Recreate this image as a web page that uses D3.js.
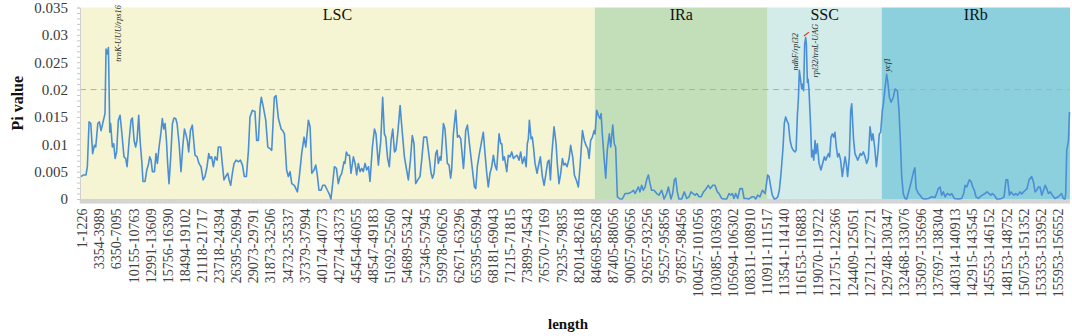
<!DOCTYPE html>
<html><head><meta charset="utf-8">
<script src="https://cdn.jsdelivr.net/npm/d3@7"></script>
<style>body{margin:0;background:#fff}svg{display:block}text{font-family:"Liberation Serif","Times New Roman",serif}</style>
</head><body><svg id="c" width="1072" height="336"></svg>
<script>
// window labels on the x axis (one label every few sliding windows)
const windowLabels = ["1-1226","3354-3989","6350-7095","10155-10763","12991-13609","15756-16390","18494-19102","21118-21717","23718-24394","26395-26994","29073-29791","31873-32506","34732-35337","37379-37994","40174-40773","42774-43373","45454-46055","48547-49183","51692-52560","54689-55342","57346-57945","59978-60626","62671-63296","65395-65994","68181-69043","71215-71815","73899-74543","76570-77169","79235-79835","82014-82618","84669-85268","87405-88056","90057-90656","92657-93256","95257-95856","97857-98456","100457-101056","103085-103693","105694-106302","108311-108910","110911-111517","113541-114140","116153-116883","119070-119722","121751-122366","124409-125051","127121-127721","129748-130347","132468-133076","135097-135696","137697-138304","140314-140913","142915-143545","145553-146152","148153-148752","150753-151352","153353-153952","155953-156552"];

// window position (in label-index units) and Pi value
const windowPos = [-0.06,0.08,0.23,0.31,0.41,0.51,0.62,0.72,0.80,0.92,1.01,1.11,1.25,1.34,1.40,1.48,1.54,1.62,1.67,1.77,1.85,1.93,2.02,2.12,2.22,2.32,2.45,2.55,2.63,2.75,2.86,2.94,3.04,3.13,3.21,3.31,3.39,3.49,3.56,3.68,3.78,3.87,3.95,4.03,4.11,4.23,4.32,4.40,4.50,4.60,4.69,4.77,4.85,4.93,5.00,5.08,5.18,5.28,5.37,5.47,5.55,5.67,5.78,5.88,5.98,6.06,6.15,6.23,6.33,6.44,6.52,6.60,6.72,6.83,6.95,7.07,7.18,7.30,7.40,7.48,7.57,7.67,7.77,7.89,7.96,8.10,8.20,8.29,8.39,8.51,8.59,8.68,8.78,8.88,9.00,9.13,9.25,9.37,9.48,9.60,9.72,9.81,9.95,10.10,
10.20,10.30,10.40,10.47,10.59,10.73,10.85,10.98,11.08,11.23,11.33,11.47,11.63,11.72,11.82,11.95,12.05,12.15,12.25,12.40,12.58,12.69,12.83,12.97,13.07,13.22,13.32,13.42,13.55,13.65,13.73,13.84,13.96,14.06,14.19,14.33,14.43,14.54,14.62,14.74,14.86,14.97,15.07,15.17,15.30,15.36,15.44,15.52,15.62,15.71,15.85,15.95,16.04,16.14,16.24,16.34,16.43,16.53,16.63,16.73,16.82,16.96,17.08,17.17,17.31,17.45,17.56,17.66,17.74,17.85,17.95,18.05,18.15,18.25,18.33,18.44,18.58,18.67,18.83,18.96,19.06,19.18,19.29,19.39,19.49,19.61,19.74,19.84,19.96,20.03,20.13,
20.23,20.39,20.47,20.56,20.66,20.74,20.81,20.91,20.97,21.11,21.20,21.34,21.44,21.53,21.59,21.69,21.83,21.93,22.02,22.12,22.28,22.33,22.41,22.51,22.63,22.76,22.92,23.00,23.09,23.21,23.35,23.44,23.54,23.64,23.73,23.83,23.93,24.03,24.12,24.22,24.36,24.46,24.52,24.59,24.67,24.81,24.90,25.00,25.10,25.20,25.29,25.41,25.53,25.62,25.72,25.84,25.94,26.01,26.07,26.13,26.23,26.30,26.38,26.46,26.58,26.65,26.77,26.89,26.99,27.10,27.20,27.28,27.36,27.43,27.57,27.69,27.76,27.86,27.96,28.06,28.15,28.23,28.33,28.45,28.54,28.66,28.76,28.90,28.99,29.09,29.23,29.34,29.44,29.54,29.62,29.71,29.81,29.91,29.97,
30.06,30.16,30.26,30.32,30.39,30.49,30.59,30.68,30.80,30.88,31.00,31.09,31.17,31.27,31.43,31.56,31.72,31.91,32.11,32.21,32.30,32.50,32.59,32.69,32.79,32.89,32.98,33.08,33.18,33.27,33.41,33.57,33.70,33.86,34.00,34.15,34.25,34.40,34.50,34.60,34.68,34.77,34.87,35.03,35.18,35.32,35.46,35.57,35.69,35.81,35.91,36.04,36.16,36.30,36.39,36.58,36.70,36.84,36.97,37.11,37.21,37.36,37.52,37.66,37.79,37.89,37.99,38.08,38.18,38.30,38.43,38.57,38.67,38.82,38.96,39.12,39.24,39.35,39.47,39.60,39.74,39.90,
40.05,40.13,40.23,40.32,40.44,40.54,40.64,40.73,40.83,40.95,41.02,41.10,41.20,41.26,41.36,41.45,41.55,41.65,41.71,41.79,41.84,41.90,41.98,42.04,42.10,42.15,42.21,42.27,42.31,42.37,42.41,42.46,42.56,42.62,42.68,42.74,42.82,42.87,42.95,43.05,43.16,43.26,43.36,43.44,43.52,43.60,43.67,43.75,43.83,43.91,43.98,44.06,44.14,44.22,44.31,44.41,44.49,44.57,44.64,44.72,44.82,44.90,44.96,45.07,45.15,45.23,45.31,45.39,45.46,45.54,45.64,45.74,45.83,45.93,46.03,46.13,46.20,46.30,46.40,46.50,46.57,46.65,46.75,46.81,46.91,47.00,47.06,47.16,47.26,47.39,47.49,47.63,47.72,47.80,47.88,47.97,48.07,48.17,48.31,48.46,48.57,48.65,
48.72,48.85,48.95,49.09,49.24,49.44,49.63,49.83,49.92,50.02,50.12,50.21,50.31,50.41,50.55,50.70,50.80,50.95,51.19,51.38,51.50,51.58,51.68,51.83,51.93,52.03,52.12,52.22,52.36,52.45,52.59,52.75,52.86,52.98,53.08,53.17,53.29,53.43,53.56,53.72,53.86,53.97,54.07,54.17,54.27,54.36,54.44,54.54,54.65,54.79,54.89,55.00,55.10,55.20,55.32,55.47,55.57,55.67,55.77,55.86,55.96,56.06,56.16,56.26,56.35,56.45,56.56,56.68,56.83,57.03,57.22,57.32,57.42,57.46,57.52,57.62,57.68];

const piValues = [0.0041,0.0044,0.0044,0.0059,0.0141,0.0138,0.0083,0.0098,0.0095,0.0138,0.0141,0.0125,0.0144,0.0156,0.0274,0.0265,0.0277,0.0122,0.0138,0.0095,0.0101,0.0074,0.0086,0.0144,0.0153,0.0122,0.0077,0.0074,0.0059,0.0107,0.0144,0.0148,0.0107,0.0095,0.0107,0.0153,0.0107,0.0068,0.0032,0.0032,0.0053,0.0062,0.0077,0.0071,0.0050,0.0050,0.0083,0.0065,0.0095,0.0119,0.0147,0.0128,0.0138,0.0107,0.0065,0.0028,0.0077,0.0138,0.0148,0.0147,0.0138,0.0101,0.0050,0.0095,0.0128,0.0119,0.0107,0.0086,0.0125,0.0135,0.0107,0.0080,0.0077,0.0065,0.0059,0.0035,0.0041,0.0059,0.0083,0.0074,0.0077,0.0059,0.0077,0.0071,0.0095,0.0095,0.0062,0.0035,0.0041,0.0047,0.0035,0.0025,0.0047,0.0065,0.0071,0.0068,0.0071,0.0062,0.0041,0.0041,0.0089,0.0150,0.0162,0.0160,
0.0107,0.0107,0.0168,0.0186,0.0168,0.0144,0.0095,0.0092,0.0089,0.0186,0.0189,0.0147,0.0128,0.0125,0.0119,0.0053,0.0041,0.0050,0.0028,0.0025,0.0013,0.0041,0.0083,0.0113,0.0095,0.0144,0.0132,0.0047,0.0053,0.0062,0.0047,0.0016,0.0016,0.0025,0.0025,0.0016,0.0010,0.0000,0.0022,0.0059,0.0056,0.0028,0.0041,0.0047,0.0068,0.0065,0.0086,0.0080,0.0080,0.0047,0.0077,0.0065,0.0044,0.0065,0.0050,0.0056,0.0050,0.0065,0.0053,0.0059,0.0032,0.0095,0.0128,0.0119,0.0062,0.0107,0.0186,0.0119,0.0113,0.0074,0.0059,0.0107,0.0128,0.0086,0.0089,0.0119,0.0171,0.0135,0.0077,0.0053,0.0035,0.0071,0.0116,0.0101,0.0028,0.0035,0.0041,0.0071,0.0113,0.0113,0.0113,
0.0089,0.0047,0.0038,0.0047,0.0083,0.0089,0.0065,0.0077,0.0071,0.0138,0.0128,0.0065,0.0062,0.0038,0.0053,0.0119,0.0162,0.0113,0.0116,0.0110,0.0056,0.0077,0.0125,0.0135,0.0101,0.0065,0.0022,0.0019,0.0059,0.0083,0.0107,0.0122,0.0083,0.0047,0.0022,0.0047,0.0059,0.0080,0.0062,0.0053,0.0119,0.0101,0.0101,0.0071,0.0077,0.0050,0.0080,0.0077,0.0086,0.0074,0.0077,0.0080,0.0071,0.0086,0.0065,0.0077,0.0059,0.0101,0.0110,0.0144,0.0110,0.0113,0.0092,0.0065,0.0047,0.0059,0.0077,0.0041,0.0025,0.0047,0.0068,0.0071,0.0035,0.0077,0.0132,0.0101,0.0065,0.0028,0.0047,0.0074,0.0062,0.0065,0.0059,0.0074,0.0098,0.0077,0.0044,0.0032,0.0022,0.0059,0.0125,0.0107,0.0098,0.0092,0.0074,0.0107,0.0113,0.0125,0.0119,
0.0162,0.0153,0.0147,0.0156,0.0119,0.0077,0.0038,0.0089,0.0119,0.0095,0.0135,0.0101,0.0095,0.0004,0.0000,0.0000,0.0010,0.0010,0.0013,0.0016,0.0010,0.0022,0.0013,0.0025,0.0016,0.0022,0.0035,0.0044,0.0028,0.0016,0.0016,0.0010,0.0007,0.0016,0.0000,0.0010,0.0022,0.0000,0.0010,0.0035,0.0038,0.0013,0.0000,0.0000,0.0013,0.0001,0.0004,0.0013,0.0010,0.0007,0.0010,0.0004,0.0004,0.0013,0.0016,0.0025,0.0019,0.0025,0.0025,0.0013,0.0010,0.0001,0.0000,0.0000,0.0010,0.0007,0.0010,0.0001,0.0010,0.0001,0.0019,0.0019,0.0001,0.0001,0.0000,0.0004,0.0004,0.0000,0.0007,0.0004,0.0016,0.0010,
0.0044,0.0041,0.0022,0.0007,0.0000,0.0001,0.0004,0.0016,0.0047,0.0095,0.0138,0.0150,0.0141,0.0138,0.0107,0.0095,0.0089,0.0086,0.0089,0.0156,0.0180,0.0235,0.0216,0.0201,0.0210,0.0198,0.0283,0.0295,0.0283,0.0213,0.0219,0.0201,0.0132,0.0077,0.0089,0.0071,0.0107,0.0083,0.0101,0.0065,0.0053,0.0065,0.0077,0.0071,0.0077,0.0083,0.0077,0.0113,0.0119,0.0113,0.0122,0.0095,0.0077,0.0083,0.0071,0.0041,0.0059,0.0077,0.0065,0.0041,0.0077,0.0162,0.0174,0.0107,0.0083,0.0077,0.0071,0.0077,0.0083,0.0080,0.0086,0.0077,0.0065,0.0074,0.0132,0.0107,0.0119,0.0095,0.0059,0.0089,0.0119,0.0122,0.0162,0.0174,0.0204,0.0228,0.0216,0.0186,0.0177,0.0186,0.0201,0.0198,0.0162,0.0107,0.0041,0.0010,0.0001,0.0000,0.0016,0.0035,0.0050,0.0057,
0.0019,0.0010,0.0007,0.0001,0.0000,0.0001,0.0004,0.0003,0.0010,0.0019,0.0022,0.0007,0.0013,0.0004,0.0010,0.0007,0.0010,0.0001,0.0000,0.0001,0.0010,0.0025,0.0022,0.0035,0.0032,0.0022,0.0016,0.0004,0.0001,0.0004,0.0007,0.0010,0.0013,0.0010,0.0007,0.0010,0.0007,0.0000,0.0000,0.0001,0.0004,0.0035,0.0035,0.0007,0.0013,0.0009,0.0007,0.0010,0.0007,0.0013,0.0009,0.0013,0.0016,0.0019,0.0035,0.0041,0.0032,0.0013,0.0016,0.0022,0.0022,0.0007,0.0016,0.0025,0.0019,0.0010,0.0013,0.0007,0.0001,0.0004,0.0010,0.0001,0.0000,0.0010,0.0089,0.0107,0.0159];

// genome regions (label-index units)
const regionNames = ["LSC","IRa","SSC","IRb"];
const regionStart = [-0.12, 29.95, 40.05, 46.71];
const regionEnd   = [29.95, 40.05, 46.71, 57.71];
const regionColors = ["#f5f5d3","#c3dfba","#d3ecea","#8ccfdd"];

// y ticks and threshold
const yTicks = [0,0.005,0.01,0.015,0.02,0.025,0.03,0.035];
const threshold = 0.02;

// gene annotations
const annoText = ["trnK-UUU/rps16","ndhF/rpl32","rpl32/trnL-UAG","ycf1"];
const annoPos  = [2.28, 41.82, 42.99, 47.20];
const annoVal  = [0.0251, 0.0235, 0.0222, 0.0233];

const W = 1072, H = 336;
const m = {left:80, right:2, top:7.5, bottom:137};
const svg = d3.select("#c");
const x = d3.scaleLinear().domain([regionStart[0], regionEnd[3]]).range([m.left, W - m.right]);
const y = d3.scaleLinear().domain([0, 0.035]).range([H - m.bottom, m.top]);
const y0 = y(0);

// region backgrounds
regionNames.forEach((n,i)=>{
  svg.append("rect").attr("x", x(regionStart[i])).attr("y", y(0.035))
    .attr("width", x(regionEnd[i]) - x(regionStart[i])).attr("height", y0 - y(0.035))
    .attr("fill", regionColors[i]);
  svg.append("text").attr("x",(x(regionStart[i])+x(regionEnd[i]))/2).attr("y", 19.5)
    .attr("text-anchor","middle").attr("font-size",16).attr("fill","#111").text(n);
});

// bottom grey band with window ticks
svg.append("rect").attr("x", x(regionStart[0])).attr("y", y0).attr("width", x(regionEnd[3]) - x(regionStart[0])).attr("height", 4.5).attr("fill","#dcdcdc");
const minor = d3.range(regionStart[0], regionEnd[3], 1/13);
svg.append("g").selectAll("line").data(minor).join("line")
  .attr("x1", d=>x(d)).attr("x2", d=>x(d)).attr("y1", y0).attr("y2", y0+4.5)
  .attr("stroke","#c8c8c8").attr("stroke-width",0.5);

// threshold dashed line
svg.append("line").attr("x1", x(regionStart[0])).attr("x2", x(regionEnd[3]))
  .attr("y1", y(threshold)).attr("y2", y(threshold))
  .attr("stroke","#c2b45e").attr("stroke-width",1).attr("stroke-dasharray","6,4.5");

// y axis
const yMinor = d3.range(0, 0.0351, 0.001);
const gMinor = svg.append("g").attr("transform",`translate(${m.left},0)`)
  .call(d3.axisLeft(y).tickValues(yMinor).tickSize(3).tickFormat(""));
gMinor.selectAll("line").attr("stroke","#c8c8c8");
gMinor.select(".domain").attr("stroke","#d0d0d0");
const gy = svg.append("g").attr("transform",`translate(${m.left},0)`)
  .call(d3.axisLeft(y).tickValues(yTicks).tickSize(0).tickPadding(12)
    .tickFormat(d => d === 0 ? "0" : String(+d.toFixed(3))));
gy.select(".domain").remove();
gy.selectAll("text").attr("font-family","Liberation Serif, serif").attr("font-size",15).attr("fill","#3a3a3a");

// x axis labels
const gx = svg.append("g").attr("transform",`translate(0,${y0})`)
  .call(d3.axisBottom(x).tickValues(d3.range(windowLabels.length)).tickSize(0).tickFormat(i => windowLabels[i]));
gx.select(".domain").remove();
gx.selectAll("text").attr("font-family","Liberation Serif, serif").attr("font-size",14).attr("fill","#404040")
  .attr("text-anchor","end").attr("transform","rotate(-90)")
  .attr("x",-9.5).attr("y",0).attr("dy","0.33em");

// line
const pts = windowPos.map((p,i)=>[p, piValues[i]]);
svg.append("path").datum(pts)
  .attr("d", d3.line().x(d=>x(d[0])).y(d=>y(d[1])))
  .attr("fill","none").attr("stroke","#4a8fd6").attr("stroke-width",1.6).attr("stroke-linejoin","round");

// annotations
annoText.forEach((t,i)=>{
  svg.append("text").attr("transform",`translate(${x(annoPos[i])},${y(annoVal[i])}) rotate(-90)`)
    .attr("font-size",8.2).attr("font-style","italic").attr("fill","#222").text(t);
});
svg.append("line").attr("x1", x(42.17)).attr("y1", y(0.0298)).attr("x2", x(42.46)).attr("y2", y(0.0305))
  .attr("stroke","#e03030").attr("stroke-width",1.2);

// axis titles
svg.append("text").attr("transform",`translate(23,${(y(0.035)+y0)/2}) rotate(-90)`)
  .attr("text-anchor","middle").attr("font-size",16).attr("font-weight","bold").attr("fill","#111").text("Pi value");
svg.append("text").attr("x", 568).attr("y", 329).attr("text-anchor","middle")
  .attr("font-size",15).attr("font-weight","bold").attr("fill","#111").text("length");
</script></body></html>
